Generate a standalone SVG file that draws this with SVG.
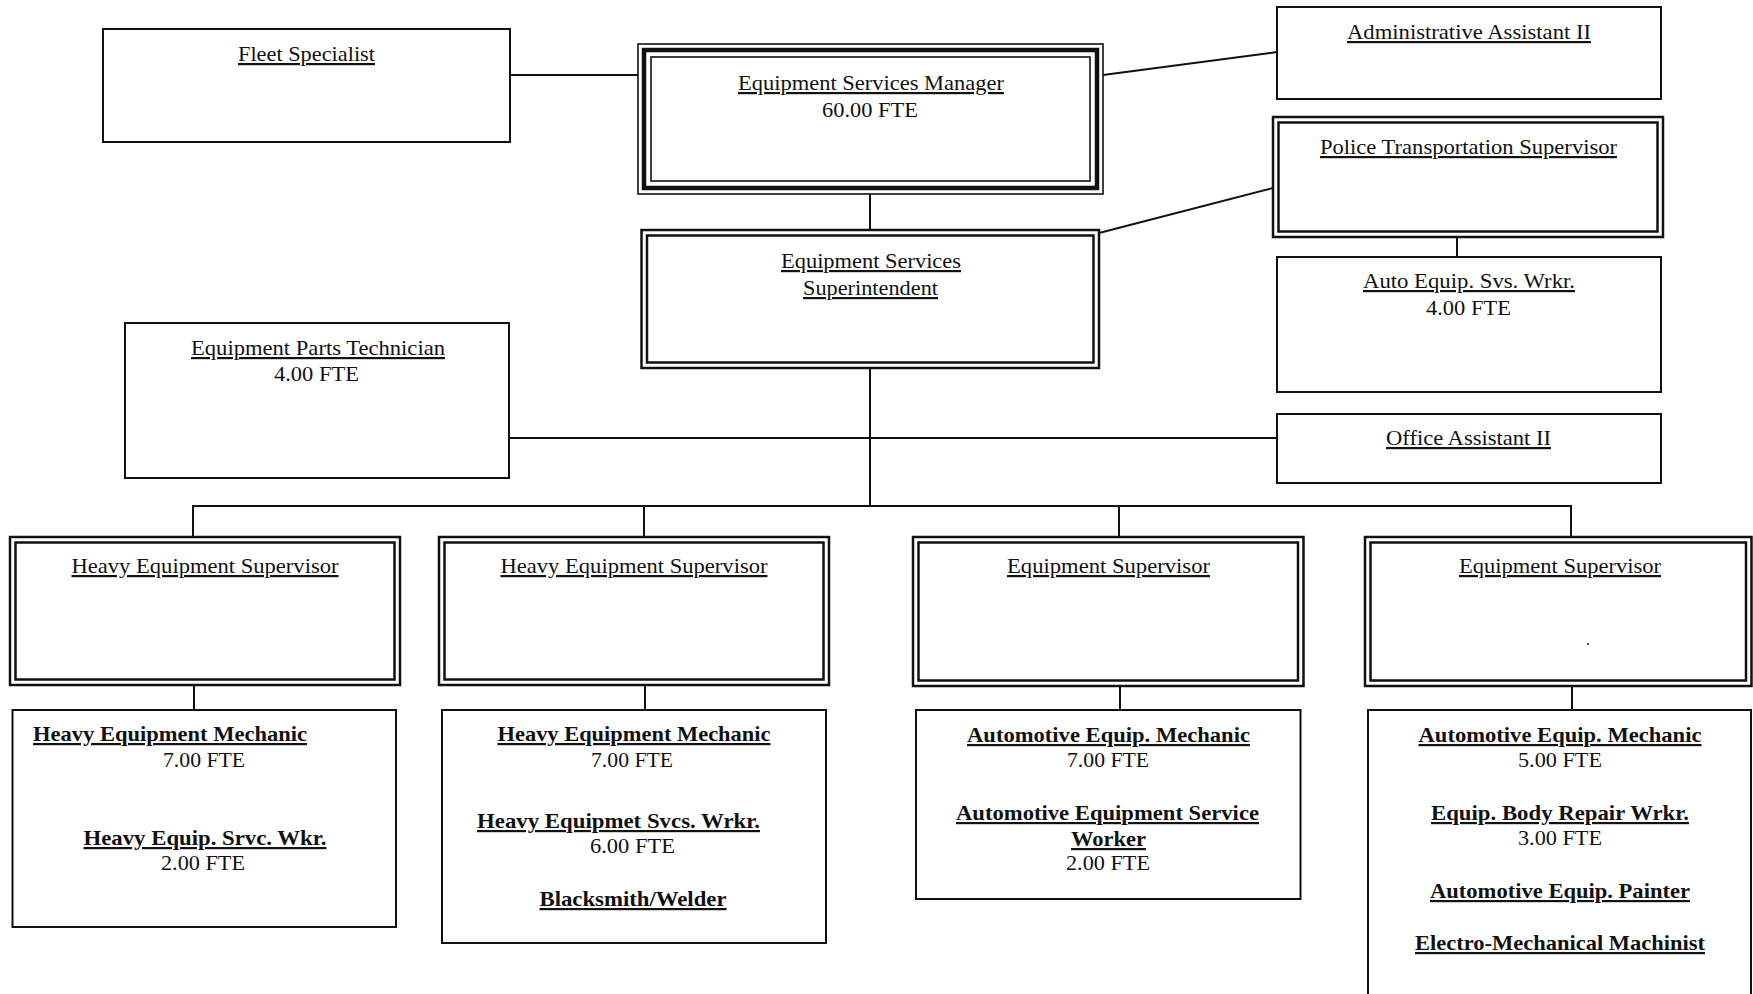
<svg xmlns="http://www.w3.org/2000/svg" width="1753" height="994" viewBox="0 0 1753 994">
<style>
  .bg{fill:#fff}
  .box{fill:#fff;stroke:#111;stroke-width:2}
  .dbl{fill:none;stroke:#111;stroke-width:2.5}
  .thin{fill:none;stroke:#111;stroke-width:1.6}
  .thick{fill:none;stroke:#111;stroke-width:4.5}
  .con{stroke:#111;stroke-width:2;fill:none}
  text{font-family:"Liberation Serif","Times New Roman",serif;font-size:22px;fill:#111;text-anchor:middle}
  .u{text-decoration:underline}
  .b{font-weight:bold}
</style>
<rect class="bg" x="0" y="0" width="1753" height="994"/>

<g id="connectors">
  <line class="con" x1="510" y1="75" x2="638" y2="75"/>
  <line class="con" x1="1103" y1="75" x2="1277" y2="52"/>
  <line class="con" x1="870" y1="194" x2="870" y2="230"/>
  <line class="con" x1="1099" y1="233" x2="1273" y2="188"/>
  <line class="con" x1="1457" y1="237" x2="1457" y2="257"/>
  <line class="con" x1="870" y1="368" x2="870" y2="506"/>
  <line class="con" x1="509" y1="438" x2="1277" y2="438"/>
  <line class="con" x1="193" y1="506" x2="1571" y2="506"/>
  <line class="con" x1="193" y1="505" x2="193" y2="537"/>
  <line class="con" x1="644" y1="505" x2="644" y2="537"/>
  <line class="con" x1="1119" y1="505" x2="1119" y2="537"/>
  <line class="con" x1="1571" y1="505" x2="1571" y2="537"/>
  <line class="con" x1="194" y1="685" x2="194" y2="710"/>
  <line class="con" x1="645" y1="685" x2="645" y2="710"/>
  <line class="con" x1="1120" y1="686" x2="1120" y2="710"/>
  <line class="con" x1="1572" y1="686" x2="1572" y2="710"/>
</g>

<g id="fleet-specialist">
  <rect class="box" x="103" y="29" width="407" height="113"/>
  <text class="u" x="306.5" y="61" textLength="137" lengthAdjust="spacingAndGlyphs">Fleet Specialist</text>
</g>

<g id="equipment-services-manager">
  <rect x="638" y="44" width="465" height="150" fill="#fff" class="thin"/>
  <rect class="thick" x="644" y="50" width="453" height="138"/>
  <rect class="thin" x="651" y="57" width="439" height="124"/>
  <text class="u" x="871" y="90" textLength="266" lengthAdjust="spacingAndGlyphs">Equipment Services Manager</text>
  <text x="870" y="117" textLength="96" lengthAdjust="spacingAndGlyphs">60.00 FTE</text>
</g>

<g id="administrative-assistant">
  <rect class="box" x="1277" y="7" width="384" height="92"/>
  <text class="u" x="1469" y="39" textLength="244" lengthAdjust="spacingAndGlyphs">Administrative Assistant II</text>
</g>

<g id="police-transportation-supervisor">
  <rect class="dbl" x="1273" y="117" width="390" height="120" fill="#fff"/>
  <rect class="dbl" x="1278.5" y="122.5" width="379" height="109"/>
  <text class="u" x="1468.5" y="154" textLength="297" lengthAdjust="spacingAndGlyphs">Police Transportation Supervisor</text>
</g>

<g id="auto-equip-svs-wrkr">
  <rect class="box" x="1277" y="257" width="384" height="135"/>
  <text class="u" x="1469" y="288" textLength="212" lengthAdjust="spacingAndGlyphs">Auto Equip. Svs. Wrkr.</text>
  <text x="1468.5" y="315" textLength="85" lengthAdjust="spacingAndGlyphs">4.00 FTE</text>
</g>

<g id="office-assistant">
  <rect class="box" x="1277" y="414" width="384" height="69"/>
  <text class="u" x="1468.5" y="445" textLength="165" lengthAdjust="spacingAndGlyphs">Office Assistant II</text>
</g>

<g id="equipment-services-superintendent">
  <rect class="dbl" x="641.5" y="230" width="457.5" height="138" fill="#fff"/>
  <rect class="dbl" x="647" y="235.5" width="446.5" height="127"/>
  <text class="u" x="871" y="268" textLength="180" lengthAdjust="spacingAndGlyphs">Equipment Services</text>
  <text class="u" x="870.5" y="295" textLength="135" lengthAdjust="spacingAndGlyphs">Superintendent</text>
</g>

<g id="equipment-parts-technician">
  <rect class="box" x="125" y="323" width="384" height="155"/>
  <text class="u" x="318" y="355" textLength="254" lengthAdjust="spacingAndGlyphs">Equipment Parts Technician</text>
  <text x="316.5" y="381" textLength="85" lengthAdjust="spacingAndGlyphs">4.00 FTE</text>
</g>

<g id="heavy-equipment-supervisor-1">
  <rect class="dbl" x="10" y="537" width="390" height="148" fill="#fff"/>
  <rect class="dbl" x="15.5" y="542.5" width="379" height="137"/>
  <text class="u" x="205" y="573" textLength="267" lengthAdjust="spacingAndGlyphs">Heavy Equipment Supervisor</text>
</g>

<g id="heavy-equipment-supervisor-2">
  <rect class="dbl" x="439" y="537" width="390" height="148" fill="#fff"/>
  <rect class="dbl" x="444.5" y="542.5" width="379" height="137"/>
  <text class="u" x="634" y="573" textLength="267" lengthAdjust="spacingAndGlyphs">Heavy Equipment Supervisor</text>
</g>

<g id="equipment-supervisor-3">
  <rect class="dbl" x="913" y="537" width="390.5" height="149" fill="#fff"/>
  <rect class="dbl" x="918.5" y="542.5" width="379.5" height="138"/>
  <text class="u" x="1108.5" y="573" textLength="203" lengthAdjust="spacingAndGlyphs">Equipment Supervisor</text>
</g>

<g id="equipment-supervisor-4">
  <rect class="dbl" x="1365" y="537" width="386.5" height="149" fill="#fff"/>
  <rect class="dbl" x="1370.5" y="542.5" width="375.5" height="138"/>
  <text class="u" x="1560" y="573" textLength="202" lengthAdjust="spacingAndGlyphs">Equipment Supervisor</text>
  <circle cx="1588" cy="644" r="1" fill="#111"/>
</g>

<g id="heavy-equipment-staff-1">
  <rect class="box" x="12.5" y="710" width="383.5" height="217"/>
  <text class="u b" x="170" y="741" textLength="274" lengthAdjust="spacingAndGlyphs">Heavy Equipment Mechanic</text>
  <text x="204" y="767" textLength="82" lengthAdjust="spacingAndGlyphs">7.00 FTE</text>
  <text class="u b" x="205" y="845" textLength="243" lengthAdjust="spacingAndGlyphs">Heavy Equip. Srvc. Wkr.</text>
  <text x="203" y="870" textLength="84" lengthAdjust="spacingAndGlyphs">2.00 FTE</text>
</g>

<g id="heavy-equipment-staff-2">
  <rect class="box" x="442" y="710" width="384" height="233"/>
  <text class="u b" x="634" y="741" textLength="273" lengthAdjust="spacingAndGlyphs">Heavy Equipment Mechanic</text>
  <text x="632" y="767" textLength="82" lengthAdjust="spacingAndGlyphs">7.00 FTE</text>
  <text class="u b" x="618.5" y="828" textLength="283" lengthAdjust="spacingAndGlyphs">Heavy Equipmet Svcs. Wrkr.</text>
  <text x="632.5" y="853" textLength="85" lengthAdjust="spacingAndGlyphs">6.00 FTE</text>
  <text class="u b" x="633" y="906" textLength="187" lengthAdjust="spacingAndGlyphs">Blacksmith/Welder</text>
</g>

<g id="automotive-staff-3">
  <rect class="box" x="916" y="710" width="384.5" height="189"/>
  <text class="u b" x="1108.5" y="742" textLength="283" lengthAdjust="spacingAndGlyphs">Automotive Equip. Mechanic</text>
  <text x="1108" y="767" textLength="82" lengthAdjust="spacingAndGlyphs">7.00 FTE</text>
  <text class="u b" x="1107.5" y="820" textLength="303" lengthAdjust="spacingAndGlyphs">Automotive Equipment Service</text>
  <text class="u b" x="1108.5" y="846" textLength="75" lengthAdjust="spacingAndGlyphs">Worker</text>
  <text x="1108" y="870" textLength="84" lengthAdjust="spacingAndGlyphs">2.00 FTE</text>
</g>

<g id="automotive-staff-4">
  <rect class="box" x="1368" y="710" width="383" height="300"/>
  <text class="u b" x="1560" y="742" textLength="283" lengthAdjust="spacingAndGlyphs">Automotive Equip. Mechanic</text>
  <text x="1560" y="767" textLength="84" lengthAdjust="spacingAndGlyphs">5.00 FTE</text>
  <text class="u b" x="1560" y="820" textLength="258" lengthAdjust="spacingAndGlyphs">Equip. Body Repair Wrkr.</text>
  <text x="1560" y="845" textLength="84" lengthAdjust="spacingAndGlyphs">3.00 FTE</text>
  <text class="u b" x="1560" y="898" textLength="260" lengthAdjust="spacingAndGlyphs">Automotive Equip. Painter</text>
  <text class="u b" x="1560" y="950" textLength="290" lengthAdjust="spacingAndGlyphs">Electro-Mechanical Machinist</text>
</g>
</svg>
